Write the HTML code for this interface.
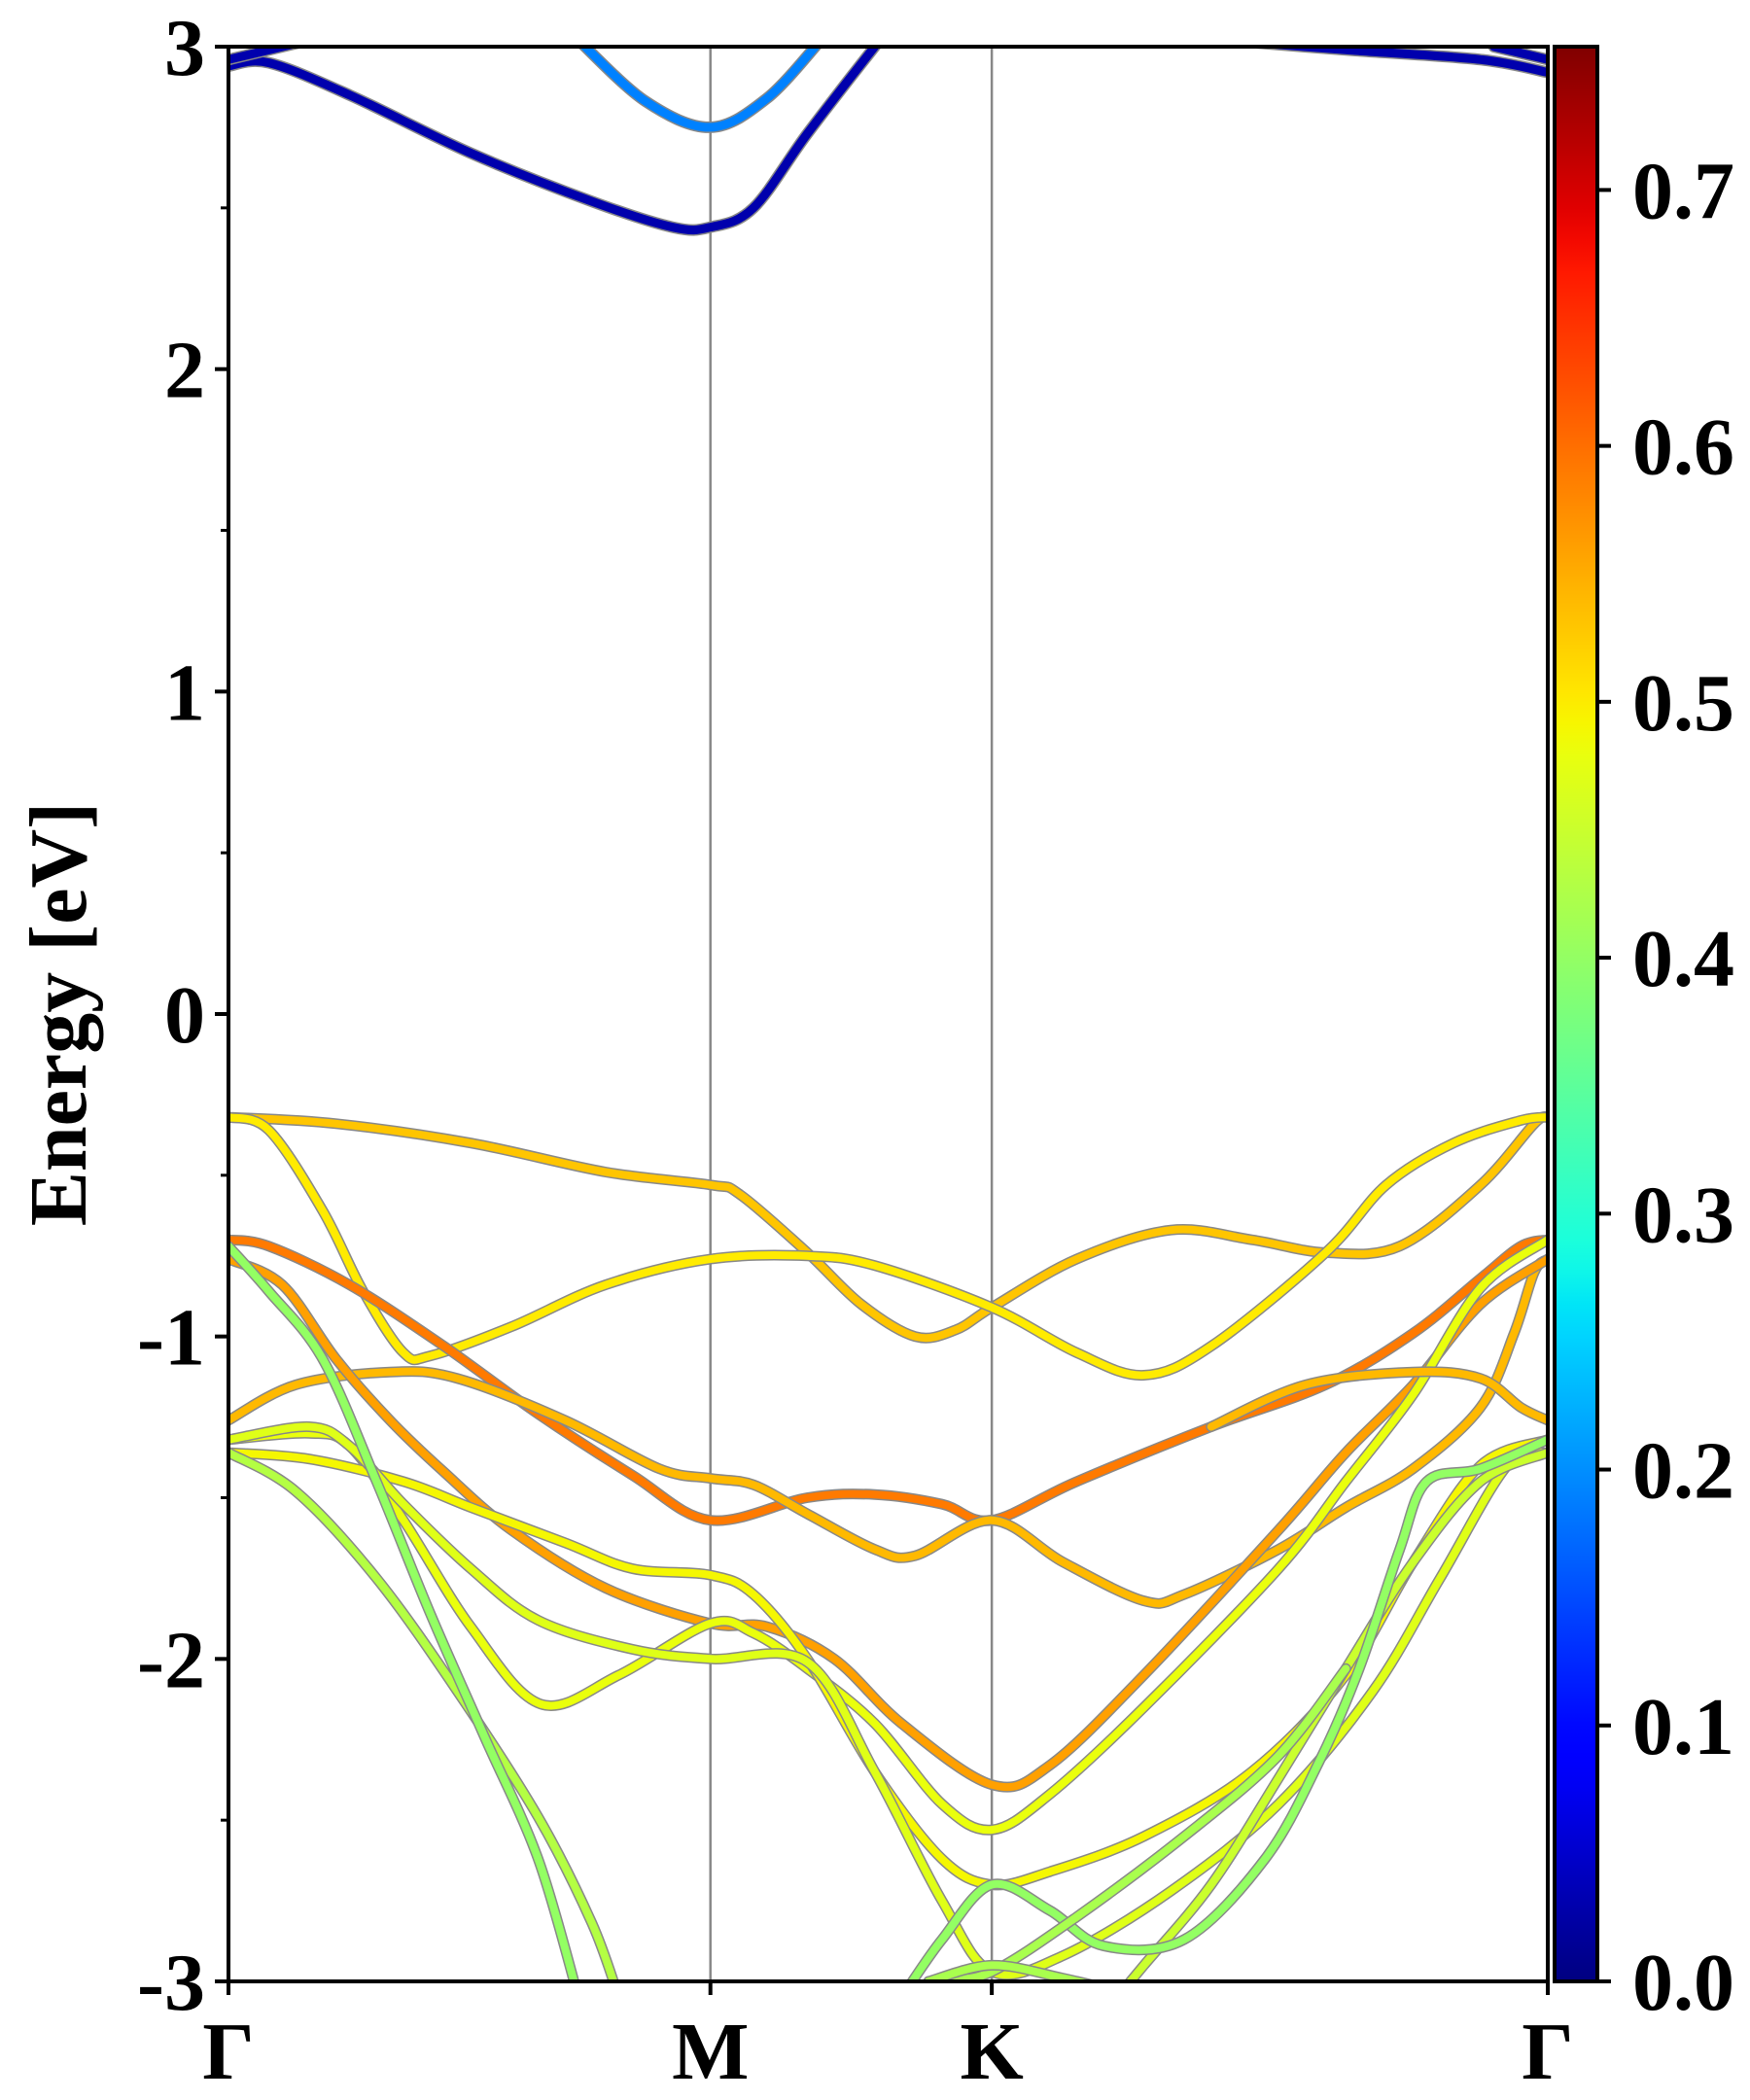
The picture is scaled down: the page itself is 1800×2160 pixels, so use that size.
<!DOCTYPE html>
<html><head><meta charset="utf-8"><style>
html,body{margin:0;padding:0;background:#fff;}
svg{display:block;}
text{font-family:"Liberation Serif","Times New Roman",serif;font-weight:bold;fill:#000;}
</style></head><body>
<svg id="chart" width="1800" height="2160" viewBox="0 0 1800 2160" xmlns="http://www.w3.org/2000/svg">
<defs>
<linearGradient id="jet" x1="0" y1="1" x2="0" y2="0"></linearGradient>
<clipPath id="plotclip"><rect x="235" y="48" width="1357" height="1990"/></clipPath>
</defs>
<g id="bands" clip-path="url(#plotclip)"></g>
<g id="axes"></g>
<text transform="translate(88,1043) rotate(-90)" text-anchor="middle" font-size="84">Energy [eV]</text>
</svg>
<script>
// k-path distance units: Γ=0, M=358, K=567, Γ=980
const kTicks=[0,358,567,980];
const kLabels=["Γ","M","K","Γ"];
const eTicks=[3,2,1,0,-1,-2,-3];
const eTickLabels=["3","2","1","0","-1","-2","-3"];
const eMinor=[2.5,1.5,0.5,-0.5,-1.5,-2.5];
const cbTicks=[0,0.1,0.2,0.3,0.4,0.5,0.6,0.7];
const cbTickLabels=["0.0","0.1","0.2","0.3","0.4","0.5","0.6","0.7"];
const cbMax=0.756;

const bandK=[
[0,30,90,180,270,330,358,390,430,480,500],
[740,830,930,980],
[0,60],
[260,310,358,400,440],
[940,980],
[0,80,180,280,358,380,430,470,510,540,567,630,700,760,815,870,930,970,980],
[0,30,70,100,130,150,210,280,358,430,480,567,630,680,730,815,860,910,960,980],
[0,30,90,160,230,300,358,430,480,530,567,630,730,815,880,930,960,980],
[0,50,120,170,250,320,358,390,430,480,510,567,620,680,710,780,830,880,930,955,970,980],
[0,40,80,120,160,210,280,358,400,450,500,567,610,680,780,830,880,930,980],
[0,60,90,130,180,232,290,358,390,430,480,530,567,610,680,780,830,880,930,980],
[0,60,130,180,250,300,358,390,430,480,530,567,610,680,760,830,880,930,980],
[0,60,90,130,180,230,300,358,430,480,530,567,620,700,780,850,900,950,980],
[0,50,110,170,230,270,290],
[0,30,70,110,150,190,230,260],
[660,680,730,780,830,880,930,980],
[500,530,567,610,650,710,770,810,840,870,890,930,980],
[500,530,567,630,710,780,830],
[520,567,620,680],
[730,800,880,930,960,980]
];
const bandE=[
[2.94,2.95,2.85,2.67,2.52,2.44,2.44,2.50,2.73,3.0,3.1],
[3.02,2.99,2.96,2.92],
[2.96,3.02],
[3.02,2.83,2.75,2.84,3.02],
[3.0,2.96],
[-0.32,-0.34,-0.40,-0.49,-0.53,-0.56,-0.74,-0.90,-1.00,-0.98,-0.91,-0.76,-0.67,-0.70,-0.74,-0.72,-0.53,-0.34,-0.32],
[-0.32,-0.36,-0.61,-0.86,-1.05,-1.06,-0.97,-0.84,-0.76,-0.75,-0.78,-0.91,-1.05,-1.12,-1.03,-0.74,-0.53,-0.40,-0.33,-0.32],
[-0.70,-0.72,-0.84,-1.03,-1.24,-1.43,-1.57,-1.50,-1.49,-1.52,-1.57,-1.45,-1.28,-1.15,-0.99,-0.82,-0.72,-0.70],
[-1.26,-1.15,-1.11,-1.13,-1.26,-1.41,-1.44,-1.46,-1.55,-1.66,-1.68,-1.57,-1.70,-1.82,-1.80,-1.66,-1.53,-1.41,-1.22,-0.99,-0.80,-0.76],
[-0.76,-0.84,-1.07,-1.26,-1.42,-1.60,-1.78,-1.89,-1.90,-2.00,-2.20,-2.39,-2.33,-2.05,-1.60,-1.36,-1.15,-0.90,-0.76],
[-1.32,-1.30,-1.34,-1.57,-1.90,-2.14,-2.05,-1.89,-1.92,-2.03,-2.20,-2.45,-2.53,-2.42,-2.15,-1.72,-1.45,-1.18,-0.85,-0.70],
[-1.36,-1.38,-1.45,-1.53,-1.64,-1.72,-1.74,-1.80,-2.00,-2.35,-2.62,-2.70,-2.66,-2.55,-2.35,-2.05,-1.70,-1.40,-1.32],
[-1.32,-1.28,-1.34,-1.52,-1.72,-1.88,-1.97,-2.00,-2.01,-2.35,-2.75,-2.97,-2.92,-2.72,-2.45,-2.10,-1.75,-1.40,-1.36],
[-1.36,-1.48,-1.75,-2.10,-2.49,-2.82,-3.05],
[-0.72,-0.86,-1.07,-1.45,-1.86,-2.24,-2.62,-3.05],
[-3.05,-2.95,-2.70,-2.37,-2.03,-1.70,-1.45,-1.36],
[-3.05,-2.87,-2.70,-2.78,-2.89,-2.87,-2.62,-2.32,-2.03,-1.66,-1.45,-1.41,-1.32],
[-3.05,-3.0,-2.97,-2.80,-2.55,-2.30,-2.03],
[-3.0,-2.95,-2.99,-3.05],
[-1.28,-1.15,-1.11,-1.13,-1.22,-1.26]
];
const bandC=[0.03,0.03,0.03,0.19,0.03,0.53,0.5,0.59,0.54,0.56,0.48,0.49,0.47,0.43,0.4,0.45,0.4,0.42,0.42,0.54];

const X0=235,X1=1592,Y0=48,Y1=2038,KMAX=980,EMIN=-3,EMAX=3;
const CBX=1599,CBW=44;
function xs(k){return X0+(k/KMAX)*(X1-X0);}
function ys(e){return Y1-(e-EMIN)/(EMAX-EMIN)*(Y1-Y0);}
function ycb(v){return Y1-(v/cbMax)*(Y1-Y0);}
function interp(seg,t){for(let i=1;i<seg.length;i++){if(t<=seg[i][0]){const a=seg[i-1],b=seg[i];return a[1]+(b[1]-a[1])*(t-a[0])/((b[0]-a[0])||1);}}return seg[seg.length-1][1];}
const RS=[[0,0],[0.35,0],[0.66,1],[0.89,1],[1,0.5]];
const GS=[[0,0],[0.125,0],[0.375,1],[0.64,1],[0.91,0],[1,0]];
const BS=[[0,0.5],[0.11,1],[0.34,1],[0.65,0],[1,0]];
function jetT(t){t=Math.max(0,Math.min(1,t));
 return `rgb(${Math.round(interp(RS,t)*255)},${Math.round(interp(GS,t)*255)},${Math.round(interp(BS,t)*255)})`;}
function jet(v){return jetT(v/cbMax);}
const NS="http://www.w3.org/2000/svg";
const grad=document.getElementById('jet');
for(let i=0;i<=60;i++){const s=document.createElementNS(NS,'stop');s.setAttribute('offset',i/60);s.setAttribute('stop-color',jetT(i/60));grad.appendChild(s);}
function pathFor(K,E){const P=K.map((k,i)=>[xs(k),ys(E[i])]);let d=`M${P[0][0].toFixed(1)},${P[0][1].toFixed(1)}`;
 for(let i=0;i<P.length-1;i++){const p0=P[i-1]||P[i],p1=P[i],p2=P[i+1],p3=P[i+2]||P[i+1];
 const c1=[p1[0]+(p2[0]-p0[0])/6,p1[1]+(p2[1]-p0[1])/6],c2=[p2[0]-(p3[0]-p1[0])/6,p2[1]-(p3[1]-p1[1])/6];
 d+=` C${c1[0].toFixed(1)},${c1[1].toFixed(1)} ${c2[0].toFixed(1)},${c2[1].toFixed(1)} ${p2[0].toFixed(1)},${p2[1].toFixed(1)}`;}return d;}
const gB=document.getElementById('bands');
const gA=document.getElementById('axes');
function mk(tag,attrs,parent){const e=document.createElementNS(NS,tag);for(const a in attrs)e.setAttribute(a,attrs[a]);parent.appendChild(e);return e;}
for(let i=1;i<kTicks.length-1;i++){
 const l=mk('line',{x1:xs(kTicks[i]),x2:xs(kTicks[i]),y1:Y0,y2:Y1,stroke:'#888',"stroke-width":2.5},gB);
 
 
}
for(let b=0;b<bandK.length;b++){
 const d=pathFor(bandK[b],bandE[b]);
 const thick=bandC[b]<0.25?9:8;
 const o=mk('path',{d:d,fill:'none',stroke:'#888',"stroke-width":thick+3,"stroke-linecap":"round"},gB);
 
 
 const p=mk('path',{d:d,fill:'none',stroke:jet(bandC[b]),"stroke-width":thick,"stroke-linecap":"round"},gB);
 
 
}
const fr=mk('rect',{x:X0,y:Y0,width:X1-X0,height:Y1-Y0,fill:'none',stroke:'#000',"stroke-width":4},gA);


eTicks.forEach((e,i)=>{
 const t=mk('line',{x1:X0-14,x2:X0,y1:ys(e),y2:ys(e),stroke:'#000',"stroke-width":4},gA);
 
 
 const tx=mk('text',{x:X0-24,y:ys(e)+29,"text-anchor":"end","font-size":84},gA);
 tx.textContent=eTickLabels[i];
 
 
});
eMinor.forEach(e=>{
 const t=mk('line',{x1:X0-8,x2:X0,y1:ys(e),y2:ys(e),stroke:'#000',"stroke-width":3},gA);
 
 
});
kTicks.forEach((k,i)=>{
 const t=mk('line',{x1:xs(k),x2:xs(k),y1:Y1,y2:Y1+14,stroke:'#000',"stroke-width":4},gA);
 
 
 const tx=mk('text',{x:xs(k),y:Y1+100,"text-anchor":"middle","font-size":84},gA);
 tx.textContent=kLabels[i];
 
 
});
const cb=mk('rect',{x:CBX,y:Y0,width:CBW,height:Y1-Y0,fill:'url(#jet)',stroke:'#000',"stroke-width":4},gA);


cbTicks.forEach((v,i)=>{
 const t=mk('line',{x1:CBX+CBW,x2:CBX+CBW+14,y1:ycb(v),y2:ycb(v),stroke:'#000',"stroke-width":4},gA);
 
 
 const tx=mk('text',{x:CBX+CBW+36,y:ycb(v)+29,"text-anchor":"start","font-size":84},gA);
 tx.textContent=cbTickLabels[i];
 
 
});
</script>
</body></html>
